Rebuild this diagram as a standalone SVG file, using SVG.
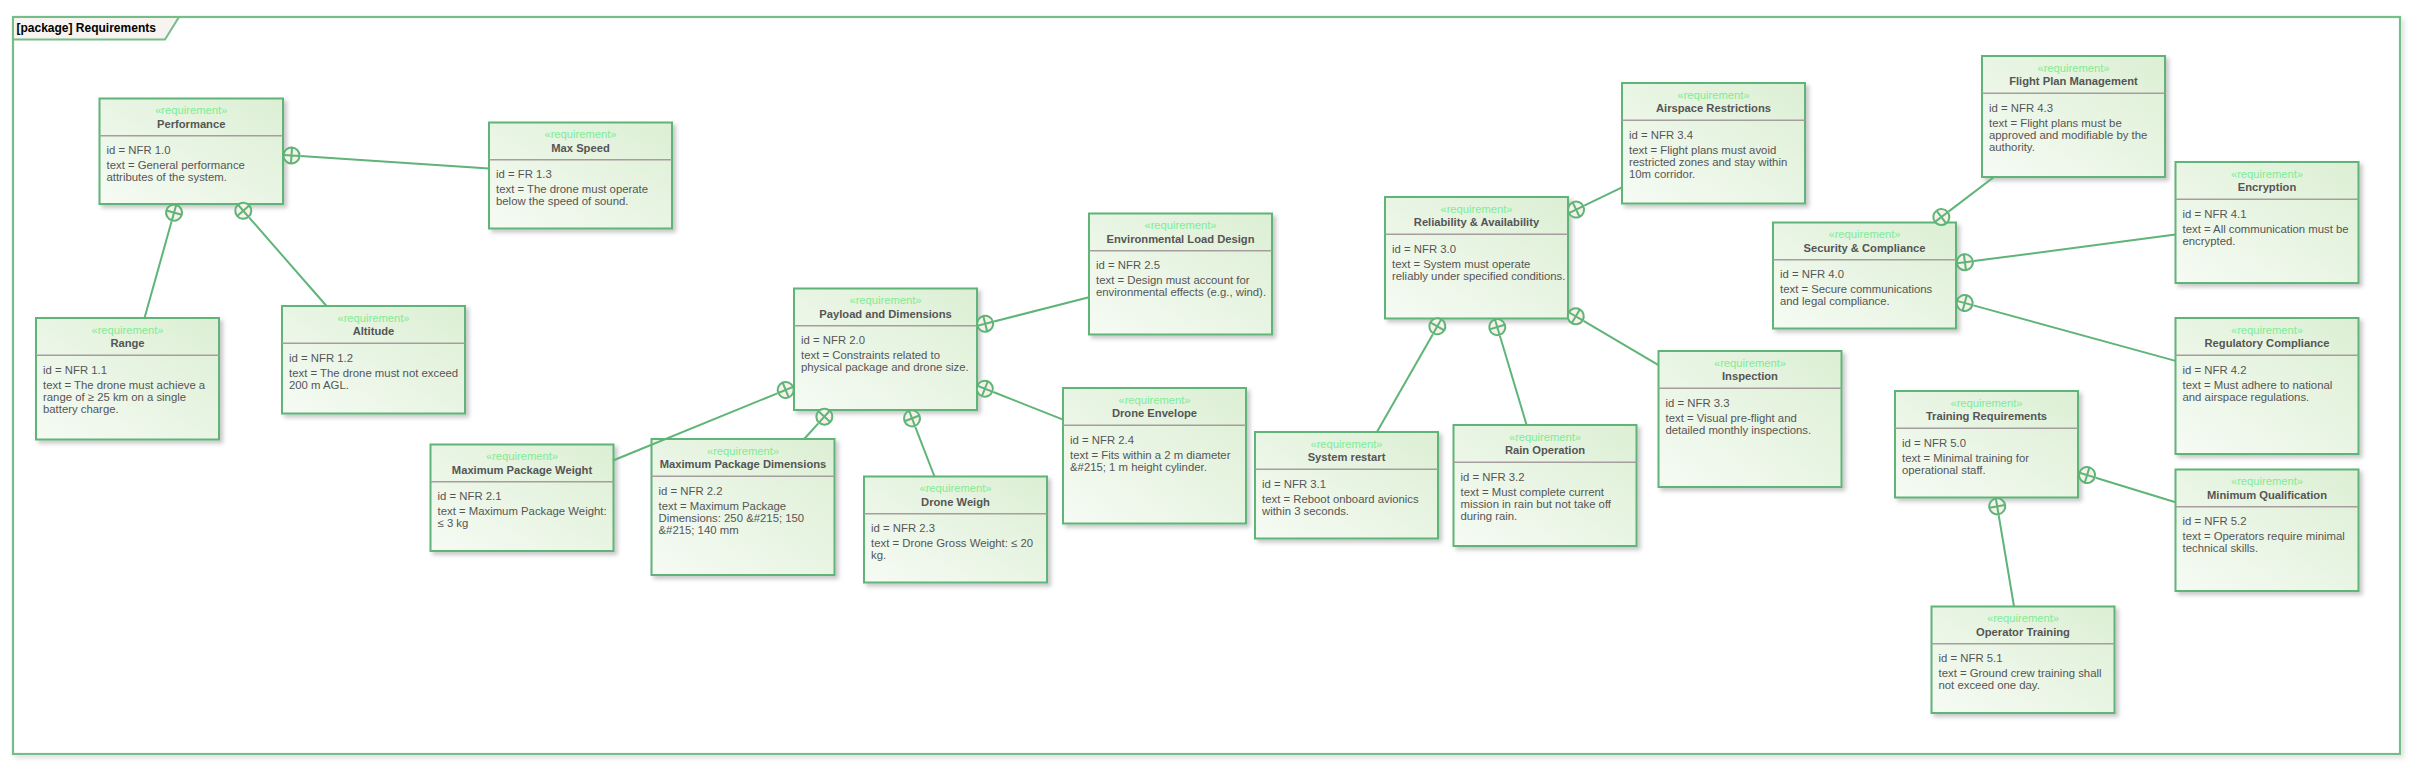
<svg xmlns="http://www.w3.org/2000/svg" xmlns:xlink="http://www.w3.org/1999/xlink" width="2422" height="778" viewBox="0 0 2422 778">
<style>
text{font-family:"Liberation Sans",Arial,sans-serif}
.box{fill:url(#bg);stroke:#5fb477;stroke-width:2;filter:url(#sh)}
.sep{stroke:#a69e9e;stroke-width:1.5}
.st{font-size:11.2px;fill:#7eec96;text-anchor:middle}
.nm{font-size:11.2px;font-weight:bold;fill:#555;text-anchor:middle}
.tx{font-size:11.35px;fill:#555}
.frame{fill:#fff;stroke:#74bd89;stroke-width:2.2;filter:url(#fsh)}
.tab{fill:#f6f3f0;stroke:#74bd89;stroke-width:2}
.tabt{font-size:12px;font-weight:bold;fill:#000}
.conn line{stroke:#5fb477;stroke-width:2}
.cont circle{fill:#f6f1ea;stroke:#5fb477;stroke-width:2}
.cont path{stroke:#5fb477;stroke-width:2;fill:none}
</style>
<defs>
<linearGradient id="bg" x1="0" y1="1" x2="1" y2="0">
<stop offset="0" stop-color="#f6fbf4"/>
<stop offset="1" stop-color="#dcefd4"/>
</linearGradient>
<filter id="sh" x="-10%" y="-10%" width="125%" height="130%">
<feDropShadow dx="3" dy="3" stdDeviation="2" flood-color="#000" flood-opacity="0.22"/>
</filter>
<filter id="fsh" x="-2%" y="-2%" width="104%" height="106%">
<feDropShadow dx="3" dy="3" stdDeviation="2.5" flood-color="#000" flood-opacity="0.12"/>
</filter>
<g id="cont" class="cont"><circle r="8"/><path d="M-8 0H8M0 -8V8"/></g>
</defs>
<rect width="2422" height="778" fill="#fff"/>
<g id="frame">
<rect class="frame" x="13" y="17" width="2387" height="737"/>
<path class="tab" d="M13 17H179L165 39.5H13Z"/>
<text class="tabt" x="16.5" y="32">[package] Requirements</text>
</g>

<g id="performance" transform="translate(99.5,98.5)">
<rect class="box" width="183.5" height="105.5"/>
<line class="sep" x1="0" y1="37.3" x2="183.5" y2="37.3"/>
<text class="st" x="91.7" y="15.5">«requirement»</text>
<text class="nm" x="91.7" y="29.3">Performance</text>
<text class="tx" x="7" y="55.5">id = NFR 1.0</text>
<text class="tx" x="7" y="70.5">text = General performance</text>
<text class="tx" x="7" y="82.7">attributes of the system.</text>
</g>

<g id="max-speed" transform="translate(489,122.5)">
<rect class="box" width="183" height="106"/>
<line class="sep" x1="0" y1="37.3" x2="183" y2="37.3"/>
<text class="st" x="91.5" y="15.5">«requirement»</text>
<text class="nm" x="91.5" y="29.3">Max Speed</text>
<text class="tx" x="7" y="55.5">id = FR 1.3</text>
<text class="tx" x="7" y="70.5">text = The drone must operate</text>
<text class="tx" x="7" y="82.7">below the speed of sound.</text>
</g>

<g id="range" transform="translate(36,318)">
<rect class="box" width="183" height="121.5"/>
<line class="sep" x1="0" y1="37.3" x2="183" y2="37.3"/>
<text class="st" x="91.5" y="15.5">«requirement»</text>
<text class="nm" x="91.5" y="29.3">Range</text>
<text class="tx" x="7" y="55.5">id = NFR 1.1</text>
<text class="tx" x="7" y="70.5">text = The drone must achieve a</text>
<text class="tx" x="7" y="82.7">range of ≥ 25 km on a single</text>
<text class="tx" x="7" y="94.9">battery charge.</text>
</g>

<g id="altitude" transform="translate(282,306)">
<rect class="box" width="183" height="107.5"/>
<line class="sep" x1="0" y1="37.3" x2="183" y2="37.3"/>
<text class="st" x="91.5" y="15.5">«requirement»</text>
<text class="nm" x="91.5" y="29.3">Altitude</text>
<text class="tx" x="7" y="55.5">id = NFR 1.2</text>
<text class="tx" x="7" y="70.5">text = The drone must not exceed</text>
<text class="tx" x="7" y="82.7">200 m AGL.</text>
</g>

<g id="environmental-load-design" transform="translate(1089,213.5)">
<rect class="box" width="183" height="121"/>
<line class="sep" x1="0" y1="37.3" x2="183" y2="37.3"/>
<text class="st" x="91.5" y="15.5">«requirement»</text>
<text class="nm" x="91.5" y="29.3">Environmental Load Design</text>
<text class="tx" x="7" y="55.5">id = NFR 2.5</text>
<text class="tx" x="7" y="70.5">text = Design must account for</text>
<text class="tx" x="7" y="82.7">environmental effects (e.g., wind).</text>
</g>

<g id="payload-and-dimensions" transform="translate(794,288.5)">
<rect class="box" width="183" height="121.5"/>
<line class="sep" x1="0" y1="37.3" x2="183" y2="37.3"/>
<text class="st" x="91.5" y="15.5">«requirement»</text>
<text class="nm" x="91.5" y="29.3">Payload and Dimensions</text>
<text class="tx" x="7" y="55.5">id = NFR 2.0</text>
<text class="tx" x="7" y="70.5">text = Constraints related to</text>
<text class="tx" x="7" y="82.7">physical package and drone size.</text>
</g>

<g id="maximum-package-weight" transform="translate(430.5,444.5)">
<rect class="box" width="183" height="106.5"/>
<line class="sep" x1="0" y1="37.3" x2="183" y2="37.3"/>
<text class="st" x="91.5" y="15.5">«requirement»</text>
<text class="nm" x="91.5" y="29.3">Maximum Package Weight</text>
<text class="tx" x="7" y="55.5">id = NFR 2.1</text>
<text class="tx" x="7" y="70.5">text = Maximum Package Weight:</text>
<text class="tx" x="7" y="82.7">≤ 3 kg</text>
</g>

<g id="maximum-package-dimensions" transform="translate(651.5,439)">
<rect class="box" width="183" height="136"/>
<line class="sep" x1="0" y1="37.3" x2="183" y2="37.3"/>
<text class="st" x="91.5" y="15.5">«requirement»</text>
<text class="nm" x="91.5" y="29.3">Maximum Package Dimensions</text>
<text class="tx" x="7" y="55.5">id = NFR 2.2</text>
<text class="tx" x="7" y="70.5">text = Maximum Package</text>
<text class="tx" x="7" y="82.7">Dimensions: 250 &amp;#215; 150</text>
<text class="tx" x="7" y="94.9">&amp;#215; 140 mm</text>
</g>

<g id="drone-weigh" transform="translate(864,476.5)">
<rect class="box" width="183" height="106"/>
<line class="sep" x1="0" y1="37.3" x2="183" y2="37.3"/>
<text class="st" x="91.5" y="15.5">«requirement»</text>
<text class="nm" x="91.5" y="29.3">Drone Weigh</text>
<text class="tx" x="7" y="55.5">id = NFR 2.3</text>
<text class="tx" x="7" y="70.5">text = Drone Gross Weight: ≤ 20</text>
<text class="tx" x="7" y="82.7">kg.</text>
</g>

<g id="drone-envelope" transform="translate(1063,388)">
<rect class="box" width="183" height="135.5"/>
<line class="sep" x1="0" y1="37.3" x2="183" y2="37.3"/>
<text class="st" x="91.5" y="15.5">«requirement»</text>
<text class="nm" x="91.5" y="29.3">Drone Envelope</text>
<text class="tx" x="7" y="55.5">id = NFR 2.4</text>
<text class="tx" x="7" y="70.5">text = Fits within a 2 m diameter</text>
<text class="tx" x="7" y="82.7">&amp;#215; 1 m height cylinder.</text>
</g>

<g id="airspace-restrictions" transform="translate(1622,83)">
<rect class="box" width="183" height="120.5"/>
<line class="sep" x1="0" y1="37.3" x2="183" y2="37.3"/>
<text class="st" x="91.5" y="15.5">«requirement»</text>
<text class="nm" x="91.5" y="29.3">Airspace Restrictions</text>
<text class="tx" x="7" y="55.5">id = NFR 3.4</text>
<text class="tx" x="7" y="70.5">text = Flight plans must avoid</text>
<text class="tx" x="7" y="82.7">restricted zones and stay within</text>
<text class="tx" x="7" y="94.9">10m corridor.</text>
</g>

<g id="reliability-availability" transform="translate(1385,197)">
<rect class="box" width="183" height="121.5"/>
<line class="sep" x1="0" y1="37.3" x2="183" y2="37.3"/>
<text class="st" x="91.5" y="15.5">«requirement»</text>
<text class="nm" x="91.5" y="29.3">Reliability &amp; Availability</text>
<text class="tx" x="7" y="55.5">id = NFR 3.0</text>
<text class="tx" x="7" y="70.5">text = System must operate</text>
<text class="tx" x="7" y="82.7">reliably under specified conditions.</text>
</g>

<g id="system-restart" transform="translate(1255,432)">
<rect class="box" width="183" height="106.5"/>
<line class="sep" x1="0" y1="37.3" x2="183" y2="37.3"/>
<text class="st" x="91.5" y="15.5">«requirement»</text>
<text class="nm" x="91.5" y="29.3">System restart</text>
<text class="tx" x="7" y="55.5">id = NFR 3.1</text>
<text class="tx" x="7" y="70.5">text = Reboot onboard avionics</text>
<text class="tx" x="7" y="82.7">within 3 seconds.</text>
</g>

<g id="rain-operation" transform="translate(1453.5,425)">
<rect class="box" width="183" height="121"/>
<line class="sep" x1="0" y1="37.3" x2="183" y2="37.3"/>
<text class="st" x="91.5" y="15.5">«requirement»</text>
<text class="nm" x="91.5" y="29.3">Rain Operation</text>
<text class="tx" x="7" y="55.5">id = NFR 3.2</text>
<text class="tx" x="7" y="70.5">text = Must complete current</text>
<text class="tx" x="7" y="82.7">mission in rain but not take off</text>
<text class="tx" x="7" y="94.9">during rain.</text>
</g>

<g id="inspection" transform="translate(1658.5,351)">
<rect class="box" width="183" height="136"/>
<line class="sep" x1="0" y1="37.3" x2="183" y2="37.3"/>
<text class="st" x="91.5" y="15.5">«requirement»</text>
<text class="nm" x="91.5" y="29.3">Inspection</text>
<text class="tx" x="7" y="55.5">id = NFR 3.3</text>
<text class="tx" x="7" y="70.5">text = Visual pre-flight and</text>
<text class="tx" x="7" y="82.7">detailed monthly inspections.</text>
</g>

<g id="security-compliance" transform="translate(1773,222.5)">
<rect class="box" width="183" height="106"/>
<line class="sep" x1="0" y1="37.3" x2="183" y2="37.3"/>
<text class="st" x="91.5" y="15.5">«requirement»</text>
<text class="nm" x="91.5" y="29.3">Security &amp; Compliance</text>
<text class="tx" x="7" y="55.5">id = NFR 4.0</text>
<text class="tx" x="7" y="70.5">text = Secure communications</text>
<text class="tx" x="7" y="82.7">and legal compliance.</text>
</g>

<g id="flight-plan-management" transform="translate(1982,56)">
<rect class="box" width="183" height="121"/>
<line class="sep" x1="0" y1="37.3" x2="183" y2="37.3"/>
<text class="st" x="91.5" y="15.5">«requirement»</text>
<text class="nm" x="91.5" y="29.3">Flight Plan Management</text>
<text class="tx" x="7" y="55.5">id = NFR 4.3</text>
<text class="tx" x="7" y="70.5">text = Flight plans must be</text>
<text class="tx" x="7" y="82.7">approved and modifiable by the</text>
<text class="tx" x="7" y="94.9">authority.</text>
</g>

<g id="encryption" transform="translate(2175.5,162)">
<rect class="box" width="183" height="121"/>
<line class="sep" x1="0" y1="37.3" x2="183" y2="37.3"/>
<text class="st" x="91.5" y="15.5">«requirement»</text>
<text class="nm" x="91.5" y="29.3">Encryption</text>
<text class="tx" x="7" y="55.5">id = NFR 4.1</text>
<text class="tx" x="7" y="70.5">text = All communication must be</text>
<text class="tx" x="7" y="82.7">encrypted.</text>
</g>

<g id="regulatory-compliance" transform="translate(2175.5,318)">
<rect class="box" width="183" height="136"/>
<line class="sep" x1="0" y1="37.3" x2="183" y2="37.3"/>
<text class="st" x="91.5" y="15.5">«requirement»</text>
<text class="nm" x="91.5" y="29.3">Regulatory Compliance</text>
<text class="tx" x="7" y="55.5">id = NFR 4.2</text>
<text class="tx" x="7" y="70.5">text = Must adhere to national</text>
<text class="tx" x="7" y="82.7">and airspace regulations.</text>
</g>

<g id="training-requirements" transform="translate(1895,391)">
<rect class="box" width="183" height="106.5"/>
<line class="sep" x1="0" y1="37.3" x2="183" y2="37.3"/>
<text class="st" x="91.5" y="15.5">«requirement»</text>
<text class="nm" x="91.5" y="29.3">Training Requirements</text>
<text class="tx" x="7" y="55.5">id = NFR 5.0</text>
<text class="tx" x="7" y="70.5">text = Minimal training for</text>
<text class="tx" x="7" y="82.7">operational staff.</text>
</g>

<g id="minimum-qualification" transform="translate(2175.5,469.5)">
<rect class="box" width="183" height="121.5"/>
<line class="sep" x1="0" y1="37.3" x2="183" y2="37.3"/>
<text class="st" x="91.5" y="15.5">«requirement»</text>
<text class="nm" x="91.5" y="29.3">Minimum Qualification</text>
<text class="tx" x="7" y="55.5">id = NFR 5.2</text>
<text class="tx" x="7" y="70.5">text = Operators require minimal</text>
<text class="tx" x="7" y="82.7">technical skills.</text>
</g>

<g id="operator-training" transform="translate(1931.5,606.5)">
<rect class="box" width="183" height="106.5"/>
<line class="sep" x1="0" y1="37.3" x2="183" y2="37.3"/>
<text class="st" x="91.5" y="15.5">«requirement»</text>
<text class="nm" x="91.5" y="29.3">Operator Training</text>
<text class="tx" x="7" y="55.5">id = NFR 5.1</text>
<text class="tx" x="7" y="70.5">text = Ground crew training shall</text>
<text class="tx" x="7" y="82.7">not exceed one day.</text>
</g>

<g id="connectors" class="conn">
<line x1="300.5" y1="156.1" x2="489" y2="168.5"/>
<use href="#cont" transform="translate(291.5,155.5) rotate(4)"/>
<line x1="171.61" y1="221.33" x2="144.52" y2="318"/>
<use href="#cont" transform="translate(174.04,212.67) rotate(105.65)"/>
<line x1="249.2" y1="217.55" x2="326.52" y2="306"/>
<use href="#cont" transform="translate(243.28,210.78) rotate(48.84)"/>
<line x1="993.94" y1="321.52" x2="1089" y2="297.28"/>
<use href="#cont" transform="translate(985.22,323.75) rotate(-14.31)"/>
<line x1="993.24" y1="391.99" x2="1063" y2="419.62"/>
<use href="#cont" transform="translate(984.87,388.69) rotate(21.6)"/>
<line x1="777.34" y1="393.33" x2="613" y2="460.47"/>
<use href="#cont" transform="translate(785.67,389.93) rotate(157.77)"/>
<line x1="818.3" y1="423.36" x2="804.18" y2="439"/>
<use href="#cont" transform="translate(824.34,416.68) rotate(132.09)"/>
<line x1="915.26" y1="426.79" x2="934.49" y2="476.5"/>
<use href="#cont" transform="translate(912.01,418.39) rotate(68.85)"/>
<line x1="1584.2" y1="205.66" x2="1622" y2="187.38"/>
<use href="#cont" transform="translate(1576.1,209.58) rotate(-25.81)"/>
<line x1="1432.86" y1="334.13" x2="1376.93" y2="432"/>
<use href="#cont" transform="translate(1437.32,326.31) rotate(119.74)"/>
<line x1="1499.87" y1="335.74" x2="1526.62" y2="425"/>
<use href="#cont" transform="translate(1497.28,327.12) rotate(73.32)"/>
<line x1="1583.5" y1="320.9" x2="1658.5" y2="365.15"/>
<use href="#cont" transform="translate(1575.75,316.32) rotate(30.54)"/>
<line x1="1948.49" y1="211.6" x2="1993.97" y2="177"/>
<use href="#cont" transform="translate(1941.33,217.05) rotate(-37.26)"/>
<line x1="1973.85" y1="261.1" x2="2175.5" y2="234.55"/>
<use href="#cont" transform="translate(1964.92,262.28) rotate(-7.5)"/>
<line x1="1973.36" y1="305.39" x2="2175.5" y2="360.88"/>
<use href="#cont" transform="translate(1964.68,303) rotate(15.35)"/>
<line x1="2095.7" y1="477.69" x2="2175.5" y2="502.17"/>
<use href="#cont" transform="translate(2087.1,475.05) rotate(17.06)"/>
<line x1="1998.7" y1="515.25" x2="2014.04" y2="606.5"/>
<use href="#cont" transform="translate(1997.2,506.38) rotate(80.45)"/>
</g>
</svg>
